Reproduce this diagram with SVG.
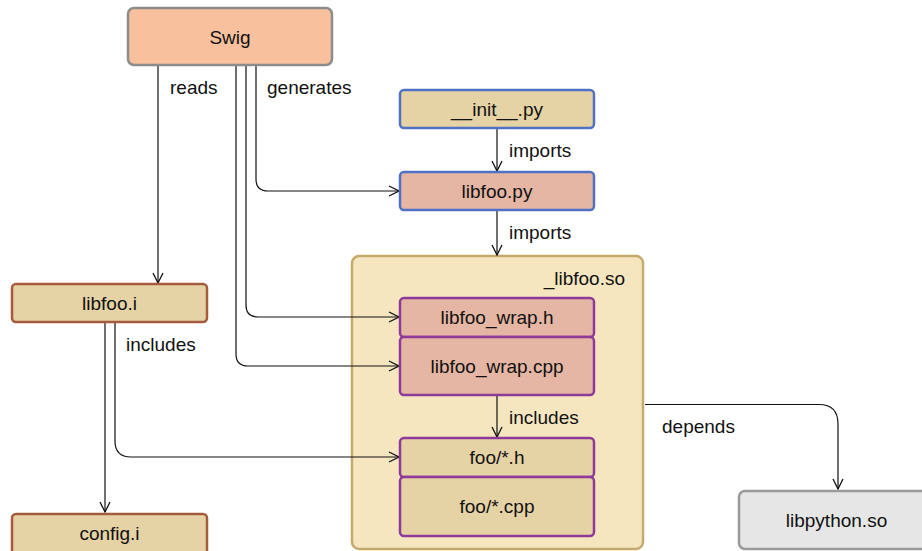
<svg xmlns="http://www.w3.org/2000/svg" width="922" height="551" viewBox="0 0 922 551">
  <defs>
    <marker id="arrow" viewBox="0 0 12 12" refX="11" refY="6" markerWidth="12" markerHeight="12" markerUnits="userSpaceOnUse" orient="auto">
      <polyline points="1,1 11,6 1,11" fill="none" stroke="#111" stroke-width="1.3"/>
    </marker>
    <style>
      text { font-family: "Liberation Sans", Arial, Helvetica, sans-serif; font-size: 19px; fill: #111; }
      .c { text-anchor: middle; }
      .box { stroke-width: 2.5; }
      .edge { fill: none; stroke: #111; stroke-width: 1.2; marker-end: url(#arrow); }
    </style>
  </defs>

  <rect width="922" height="551" fill="#ffffff"/>

  <!-- container: the built extension module -->
  <g id="libfoo_so">
    <rect x="352" y="256" width="291" height="293" rx="7" fill="#f6e6bf" stroke="#c6aa6c" stroke-width="2.5"/>
    <text x="625" y="285" text-anchor="end">_libfoo.so</text>
  </g>

  <!-- connectors -->
  <g id="connectors">
    <path class="edge" d="M158,66 V283"/>
    <path class="edge" d="M256,66 V179 Q256,191 268,191 H399"/>
    <path class="edge" d="M246,66 V305 Q246,317 258,317 H399"/>
    <path class="edge" d="M236,66 V354 Q236,366 248,366 H399"/>
    <path class="edge" d="M497,128 V171"/>
    <path class="edge" d="M497,210 V255"/>
    <path class="edge" d="M497,395 V437"/>
    <path class="edge" d="M105,322 V512"/>
    <path class="edge" d="M115,322 V441 Q115,457 131,457 H399"/>
    <path class="edge" d="M645,404.5 H819 Q838,404.5 838,424 V489"/>
    <text x="170" y="94">reads</text>
    <text x="267" y="94">generates</text>
    <text x="509" y="157">imports</text>
    <text x="509" y="239">imports</text>
    <text x="126" y="351">includes</text>
    <text x="509" y="424">includes</text>
    <text x="662" y="433">depends</text>
  </g>

  <g id="swig">
    <rect class="box" x="128" y="8" width="204" height="57" rx="6" fill="#f8c09d" stroke="#8c8c8c"/>
    <text class="c" x="230" y="44">Swig</text>
  </g>

  <g id="init_py">
    <rect class="box" x="400" y="90" width="194" height="38" rx="4" fill="#e6d3a5" stroke="#4f72c6"/>
    <text class="c" x="497" y="116">__init__.py</text>
  </g>

  <g id="libfoo_py">
    <rect class="box" x="400" y="172" width="194" height="38" rx="4" fill="#e5b6a3" stroke="#4f72c6"/>
    <text class="c" x="497" y="198">libfoo.py</text>
  </g>

  <g id="libfoo_i">
    <rect class="box" x="12" y="284" width="195" height="38" rx="4" fill="#e6d3a5" stroke="#a65c3c"/>
    <text class="c" x="109.5" y="310">libfoo.i</text>
  </g>

  <g id="libfoo_wrap_h">
    <rect class="box" x="400" y="298" width="194" height="39" rx="4" fill="#e5b6a3" stroke="#8e3a9a"/>
    <text class="c" x="497" y="324">libfoo_wrap.h</text>
  </g>

  <g id="libfoo_wrap_cpp">
    <rect class="box" x="400" y="337" width="194" height="58" rx="4" fill="#e5b6a3" stroke="#8e3a9a"/>
    <text class="c" x="497" y="373">libfoo_wrap.cpp</text>
  </g>

  <g id="foo_h">
    <rect class="box" x="400" y="438" width="194" height="39" rx="4" fill="#e6d3a5" stroke="#8e3a9a"/>
    <text class="c" x="497" y="464">foo/*.h</text>
  </g>

  <g id="foo_cpp">
    <rect class="box" x="400" y="477" width="194" height="59" rx="4" fill="#e6d3a5" stroke="#8e3a9a"/>
    <text class="c" x="497" y="513">foo/*.cpp</text>
  </g>

  <g id="config_i">
    <rect class="box" x="12" y="514" width="195" height="45" rx="4" fill="#e6d3a5" stroke="#a65c3c"/>
    <text class="c" x="109.5" y="540">config.i</text>
  </g>

  <g id="libpython_so">
    <rect class="box" x="739" y="491" width="200" height="58" rx="6" fill="#e6e6e6" stroke="#9a9a9a"/>
    <text class="c" x="836.5" y="527">libpython.so</text>
  </g>
</svg>
